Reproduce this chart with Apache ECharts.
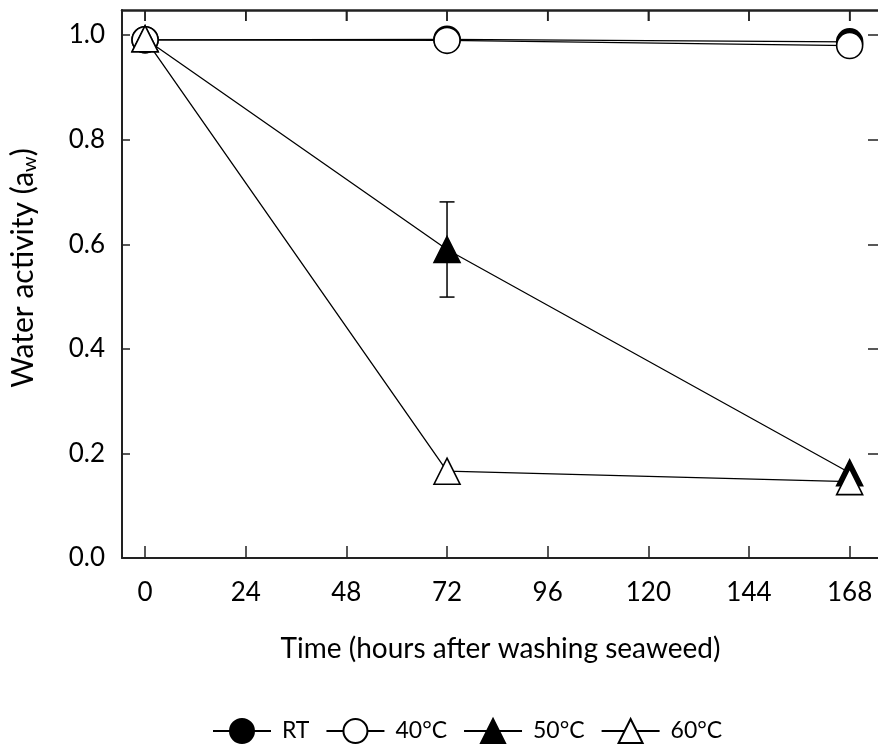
<!DOCTYPE html>
<html>
<head>
<meta charset="utf-8">
<script src="https://cdn.jsdelivr.net/npm/echarts@6/dist/echarts.min.js"></script>
<style>html,body{margin:0;padding:0;background:#fff}#c{width:878px;height:749px}</style>
</head>
<body>
<div id="c"></div>
<script>
const hours = [0, 72, 168];
const xTicks = [0, 24, 48, 72, 96, 120, 144, 168];
const yTicks = [0, 0.2, 0.4, 0.6, 0.8, 1.0];
const rt  = [0.991, 0.992, 0.987];
const c40 = [0.991, 0.990, 0.980];
const c50 = [0.993, 0.590, 0.163];
const c60 = [0.993, 0.166, 0.146];
const err50 = [0, 0.091, 0];
const names = ['RT', '40°C', '50°C', '60°C'];
const X_MIN = -5.5, X_MAX = 175, Y_MIN = 0, Y_MAX = 1.048;

const FONT = 'Lato';
const FS = 28;
const TFS = 26;
const LFS = 23;
const ink = '#000';

function pairs(v){ return hours.map((h,i)=>[h, v[i]]); }

function lineSeries(name, vals, symbol, filled){
  return {
    name, type:'line', data: pairs(vals), symbol, symbolSize: 26,
    xAxisIndex:0, yAxisIndex:0,
    lineStyle:{color:ink, width:1.3},
    itemStyle:{color: filled ? ink : '#fff', borderColor: ink, borderWidth: 1.6},
    emphasis:{disabled:true}, animation:false
  };
}

const chart = echarts.init(document.getElementById('c'), null, {renderer:'canvas'});
function ax(extra, tickVals, tickLen){
  return Object.assign({
    type:'value', splitLine:{show:false},
    axisLine:{show:true, onZero:false, lineStyle:{color:'#222', width:2}},
    axisTick:{show:true, inside:true, length:tickLen, customValues:tickVals, lineStyle:{color:'#222', width:1.5}}
  }, extra);
}
chart.setOption({
  animation:false,
  textStyle:{fontFamily:FONT},
  grid:{left:122, top:10, right:-1, bottom:191, containLabel:false, outerBoundsMode:'none'},
  xAxis:[
    ax({
      position:'bottom', min:X_MIN, max:X_MAX,
      axisLabel:{customValues:xTicks, fontSize:TFS, color:ink, fontFamily:FONT, margin:22},
      name:'Time (hours after washing seaweed)', nameLocation:'middle', nameGap:77,
      nameTextStyle:{fontSize:FS, color:ink, fontFamily:FONT}
    }, xTicks, 12),
    ax({
      position:'top', min:X_MIN, max:X_MAX, zlevel:2, z:20,
      axisLine:{show:true, onZero:false, lineStyle:{color:'#222', width:2.5}},
      axisLabel:{show:false}
    }, xTicks, 11)
  ],
  yAxis:[
    ax({
      position:'left', min:Y_MIN, max:Y_MAX,
      axisLabel:{customValues:yTicks, fontSize:TFS, color:ink, fontFamily:FONT, margin:17,
        formatter:v=>v.toFixed(1)},
      name:'{m|Water activity (a}{s|w}{m|)}', nameLocation:'middle', nameGap:74,
      nameTextStyle:{fontSize:30, color:ink, fontFamily:FONT, padding:[0,0,0,32],
        rich:{m:{fontSize:30, fontFamily:FONT, color:ink, height:36},
              s:{fontSize:20, fontFamily:FONT, color:ink, height:36, verticalAlign:'bottom', padding:[14,0,0,0]}}}
    }, yTicks, 8),
    ax({
      position:'right', min:Y_MIN, max:Y_MAX,
      axisLabel:{show:false}
    }, yTicks, 11)
  ],
  legend:{
    bottom:0, left:207, itemWidth:58, itemHeight:30, itemGap:16,
    data:names, textStyle:{fontSize:LFS, color:ink, fontFamily:FONT, padding:[0,0,0,6]},
    selectedMode:false
  },
  series:[
    lineSeries(names[0], rt, 'circle', true),
    lineSeries(names[1], c40, 'circle', false),
    {
      type:'custom', xAxisIndex:0, yAxisIndex:0, silent:true, z:1,
      data: hours.map((h,i)=>[h, c50[i], err50[i]]),
      renderItem:function(params, api){
        const e = api.value(2);
        if(!e) return null;
        const x = api.value(0), y = api.value(1);
        const top = api.coord([x, y+e]);
        const bot = api.coord([x, y-e]);
        const hw = 7.5;
        const st = {stroke:ink, lineWidth:1.5};
        return {type:'group', children:[
          {type:'line', shape:{x1:top[0], y1:top[1], x2:bot[0], y2:bot[1]}, style:st},
          {type:'line', shape:{x1:top[0]-hw, y1:top[1], x2:top[0]+hw, y2:top[1]}, style:st},
          {type:'line', shape:{x1:bot[0]-hw, y1:bot[1], x2:bot[0]+hw, y2:bot[1]}, style:st}
        ]};
      }
    },
    {
      // top-axis inward ticks, placed through the chart's own scales
      type:'custom', xAxisIndex:0, yAxisIndex:0, silent:true, zlevel:2, z:20, clip:false,
      data: xTicks.map(t=>[t, Y_MAX]),
      renderItem:function(params, api){
        const p = api.coord([api.value(0), api.value(1)]);
        return {type:'line', shape:{x1:p[0], y1:p[1], x2:p[0], y2:p[1]+11},
                style:{stroke:'#222', lineWidth:1.5}};
      }
    },
    lineSeries(names[2], c50, 'triangle', true),
    lineSeries(names[3], c60, 'triangle', false)
  ]
});
</script>
</body>
</html>
